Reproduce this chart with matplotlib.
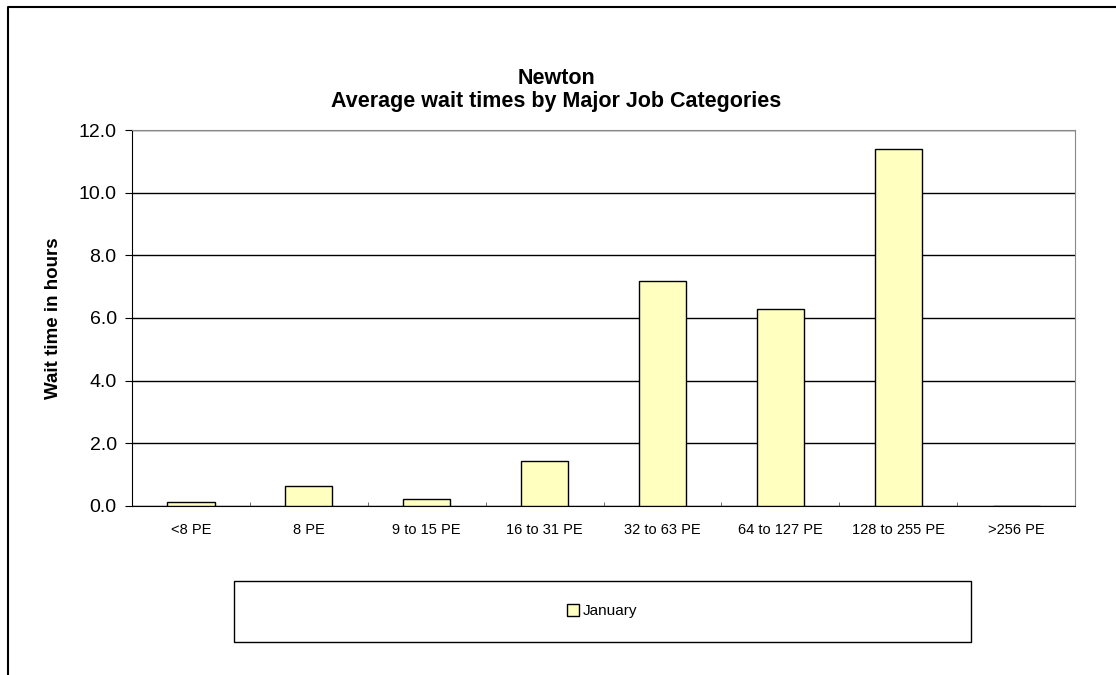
import matplotlib
matplotlib.use("Agg")
import matplotlib.pyplot as plt
import numpy as np
from matplotlib.patches import Rectangle
from matplotlib.lines import Line2D

# ---------------------------------------------------
# DATA
# ---------------------------------------------------
categories = ["<8 PE", "8 PE", "9 to 15 PE", "16 to 31 PE",
              "32 to 63 PE", "64 to 127 PE", "128 to 255 PE", ">256 PE"]
january = [0.14, 0.65, 0.21, 1.44, 7.19, 6.28, 11.38, 0.0]
y_ticks = [0, 2, 4, 6, 8, 10, 12]

plt.rcParams['font.family'] = ['Liberation Sans', 'DejaVu Sans']

# ---------------------------------------------------
# FIGURE
# ---------------------------------------------------
fig = plt.figure(figsize=(11.16, 6.75), dpi=100)
ax = fig.add_axes([0.1183, 0.2504, 0.845, 0.557])

x = np.arange(len(categories))
ax.bar(x, january, width=0.4, color="#FFFFC0", edgecolor="black",
       linewidth=1.0, label="January", zorder=3)

ax.set_xlim(-0.5, len(categories) - 0.5)
ax.set_ylim(0, 12)
ax.set_yticks(y_ticks)
ax.set_yticklabels([f"{v:.1f}" for v in y_ticks], fontsize=14)
ax.yaxis.grid(True, color="black", linewidth=1.0, zorder=0)

ax.set_xticks(x)
ax.set_xticklabels(categories, fontsize=10.5)
ax.set_xticks(np.arange(len(categories) + 1) - 0.5, minor=True)
ax.tick_params(axis="x", which="major", length=0, pad=12)
ax.tick_params(axis="x", which="minor", direction="in", length=3,
               color="#555555")
ax.tick_params(axis="y", direction="out", length=5, pad=6)

ax.spines["top"].set_color("#888888")
ax.spines["right"].set_color("#888888")
ax.spines["bottom"].set_color("black")
ax.spines["left"].set_color("black")

ax.set_ylabel("Wait time in hours", fontsize=13.5, fontweight="bold",
              labelpad=12)

# ---------------------------------------------------
# TITLE
# ---------------------------------------------------
fig.text(0.4985, 1 - 78 / 675, "Newton", ha="center", va="center",
         fontsize=15.5, fontweight="bold")
fig.text(0.4985, 1 - 102 / 675, "Average wait times by Major Job Categories",
         ha="center", va="center", fontsize=15.5, fontweight="bold")

# ---------------------------------------------------
# LEGEND BOX
# ---------------------------------------------------
fig.patches.append(Rectangle((234 / 1116, 33 / 675), 737 / 1116, 61 / 675,
                             transform=fig.transFigure, facecolor="white",
                             edgecolor="black", linewidth=1.0))
handles, labels = ax.get_legend_handles_labels()
fig.legend(handles, labels, loc="center",
           bbox_to_anchor=(602 / 1116, 1 - 611 / 675),
           frameon=False, fontsize=11, handlelength=0.8, handleheight=0.9,
           handletextpad=0.2)

# ---------------------------------------------------
# OUTER BORDER (cut off at right and bottom)
# ---------------------------------------------------
fig.add_artist(Line2D([8 / 1116, 8 / 1116, 1.0], [0.0, 1 - 7 / 675, 1 - 7 / 675],
                      transform=fig.transFigure, color="black", linewidth=1.5))

fig.savefig("out.png", dpi=100)
